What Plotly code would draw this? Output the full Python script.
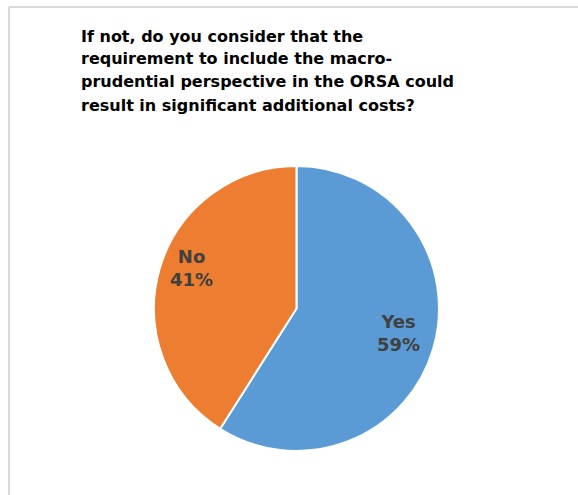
import plotly.graph_objects as go

labels = ["Yes", "No"]
values = [59, 41]
colors = ["#5B9BD5", "#ED7D31"]
title_lines = [
    "If not, do you consider that the",
    "requirement to include the macro-",
    "prudential perspective in the ORSA could",
    "result in significant additional costs?",
]

W, H = 578, 495
cx, cy, r = 296.5, 308.5, 142.5

fig = go.Figure(go.Pie(
    labels=labels, values=values, sort=False, direction="clockwise", rotation=0,
    marker=dict(colors=colors, line=dict(color="white", width=2)),
    textinfo="none",
    domain=dict(x=[(cx - r) / W, (cx + r) / W], y=[(H - cy - r) / H, (H - cy + r) / H]),
    showlegend=False, hoverinfo="label+percent",
))

annotations = []
# title lines
for i, line in enumerate(title_lines):
    annotations.append(dict(
        text="<b>" + line + "</b>", xref="paper", yref="paper",
        x=79 / W, y=1 - (36 + 23 * i) / H, xanchor="left", yanchor="middle",
        showarrow=False, font=dict(family="DejaVu Sans", size=16, color="#000000"),
    ))

# slice labels
total = sum(values)
label_pos = {"Yes": (398, 333), "No": (191, 268)}
for lab, val in zip(labels, values):
    px, py = label_pos[lab]
    annotations.append(dict(
        text="<b>%s<br>%d%%</b>" % (lab, round(100 * val / total)),
        xref="paper", yref="paper", x=px / W, y=1 - py / H,
        xanchor="center", yanchor="middle", showarrow=False,
        font=dict(family="DejaVu Sans", size=18, color="#404040"),
    ))

fig.update_layout(
    width=W, height=H, margin=dict(l=0, r=0, t=0, b=0),
    paper_bgcolor="white", plot_bgcolor="white",
    annotations=annotations,
    shapes=[
        dict(type="line", xref="paper", yref="paper", x0=9 / W, x1=1.02, y0=1 - 7 / H, y1=1 - 7 / H,
             line=dict(color="#D9D9D9", width=2)),
        dict(type="line", xref="paper", yref="paper", x0=9 / W, x1=9 / W, y0=-0.02, y1=1 - 7 / H,
             line=dict(color="#D9D9D9", width=2)),
    ],
)

fig.write_html("out.html")
